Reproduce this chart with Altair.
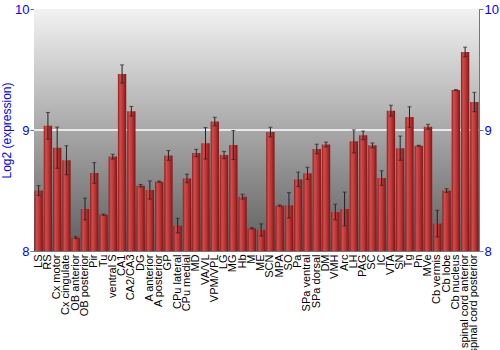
import altair as alt
import pandas as pd

regions = ["LS", "RS", "Cx motor", "Cx cingulate", "OB anterior", "OB posterior", "Pir", "Tu",
           "ventral S", "CA1", "CA2/CA3", "DG", "A anterior", "A posterior", "GP", "CPu lateral",
           "CPu medial", "MD", "VA/VL", "VPM/VPL", "LG", "MG", "Hb", "M", "ME", "SCN", "MPA", "SO",
           "Pa", "SPa ventral", "SPa dorsal", "DM", "VMH", "Arc", "LH", "PAG", "SC", "IC", "VTA",
           "SN", "Tg", "Pn", "MVe", "Cb vermis", "Cb lobe", "Cb nucleus", "spinal cord anterior",
           "spinal cord posterior"]
means = [8.50, 9.035, 8.854, 8.75, 8.11, 8.347, 8.645, 8.30,
         8.78, 9.463, 9.155, 8.54, 8.504, 8.573, 8.79, 8.21,
         8.60, 8.81, 8.89, 9.07, 8.793, 8.876, 8.449, 8.187, 8.174, 8.983, 8.375, 8.377,
         8.592, 8.642, 8.843, 8.88, 8.322, 8.347, 8.906, 8.956, 8.873, 8.603, 9.16,
         8.85, 9.107, 8.87, 9.027, 8.226, 8.50, 9.33, 9.645, 9.231]
errors = [0.04, 0.11, 0.17, 0.12, 0.008, 0.09, 0.085, 0.005,
          0.02, 0.075, 0.04, 0.01, 0.075, 0.005, 0.04, 0.06,
          0.035, 0.03, 0.13, 0.035, 0.03, 0.12, 0.02, 0.005, 0.05, 0.04, 0.005, 0.105,
          0.06, 0.05, 0.04, 0.02, 0.065, 0.14, 0.095, 0.035, 0.02, 0.06, 0.045,
          0.1, 0.085, 0.004, 0.02, 0.11, 0.015, 0.004, 0.04, 0.08]
ytick_values = [8, 9, 10]

df = pd.DataFrame({"region": regions, "mean": means, "err": errors})
df["lo"] = df["mean"] - df["err"]
df["hi"] = df["mean"] + df["err"]
df["base"] = 8.0

W, H = 445, 242
blue = "#0000ff"

xenc = alt.X("region:N", sort=regions, title=None,
             scale=alt.Scale(paddingInner=0.1, paddingOuter=0.05),
             axis=alt.Axis(labelAngle=-90, labelFont="Liberation Sans", labelFontSize=11,
                           labelColor="black", ticks=False, domain=False, labelPadding=3,
                           labelLimit=200))
yscale = alt.Scale(domain=[8, 10], zero=False, nice=False)

bg = alt.Chart(pd.DataFrame({"a": [0]})).mark_rect(
    fill=alt.Gradient(gradient="linear", x1=0, x2=0, y1=0, y2=1,
                      stops=[alt.GradientStop(offset=0, color="#f2f2f2"),
                             alt.GradientStop(offset=1, color="#5e5e5e")])
).encode(x=alt.value(0), x2=alt.value(W), y=alt.value(0), y2=alt.value(H))

grid = alt.Chart(pd.DataFrame({"v": [9]})).mark_rule(color="white", strokeWidth=1.5).encode(
    y=alt.Y("v:Q", scale=yscale, axis=None))

bars = alt.Chart(df).mark_bar(
    fill=alt.Gradient(gradient="linear", x1=0, x2=1, y1=0, y2=0,
                      stops=[alt.GradientStop(offset=0, color="#8a1c1c"),
                             alt.GradientStop(offset=0.25, color="#d24c4c"),
                             alt.GradientStop(offset=0.6, color="#bb3434"),
                             alt.GradientStop(offset=1, color="#7c1616")])
).encode(
    x=xenc,
    y=alt.Y("base:Q", scale=yscale,
            axis=alt.Axis(values=ytick_values, format=".0f", title="Log2 (expression)",
                          titleColor=blue, titleFont="Liberation Sans", titleFontSize=12,
                          titleFontWeight="normal", labelColor=blue, labelFont="Liberation Sans",
                          labelFontSize=13, grid=False, domain=False, tickColor="#777777",
                          tickSize=4, labelPadding=1, titlePadding=1, labelOverlap=False,
                          labelFlush=False)),
    y2="mean:Q",
)

rules = alt.Chart(df).mark_rule(color="#222222", strokeWidth=1).encode(
    x=xenc, y=alt.Y("lo:Q", scale=yscale, axis=None), y2="hi:Q")
caps_lo = alt.Chart(df).mark_tick(color="#222222", thickness=1, size=4).encode(
    x=xenc, y=alt.Y("lo:Q", scale=yscale, axis=None))
caps_hi = alt.Chart(df).mark_tick(color="#222222", thickness=1, size=4).encode(
    x=xenc, y=alt.Y("hi:Q", scale=yscale, axis=None))

right_axis = alt.Chart(pd.DataFrame({"v": [8]})).mark_point(opacity=0).encode(
    y=alt.Y("v:Q", scale=yscale,
            axis=alt.Axis(orient="right", values=ytick_values, format=".0f", title=None,
                          labelColor=blue, labelFont="Liberation Sans", labelFontSize=13,
                          grid=False, domain=False, tickColor="#777777", tickSize=4,
                          labelPadding=1, labelOverlap=False, labelFlush=False)))

chart = alt.layer(bg, grid, bars, rules, caps_lo, caps_hi, right_axis).resolve_scale(
    y="shared").resolve_axis(y="independent").properties(
    width=W, height=H,
    autosize=alt.AutoSizeParams(type="none"),
    padding={"left": 34, "top": 9, "right": 21, "bottom": 99},
).configure_view(stroke="#777777", strokeWidth=1)

chart.save("out.html", embed_options={"renderer": "svg", "actions": False})
